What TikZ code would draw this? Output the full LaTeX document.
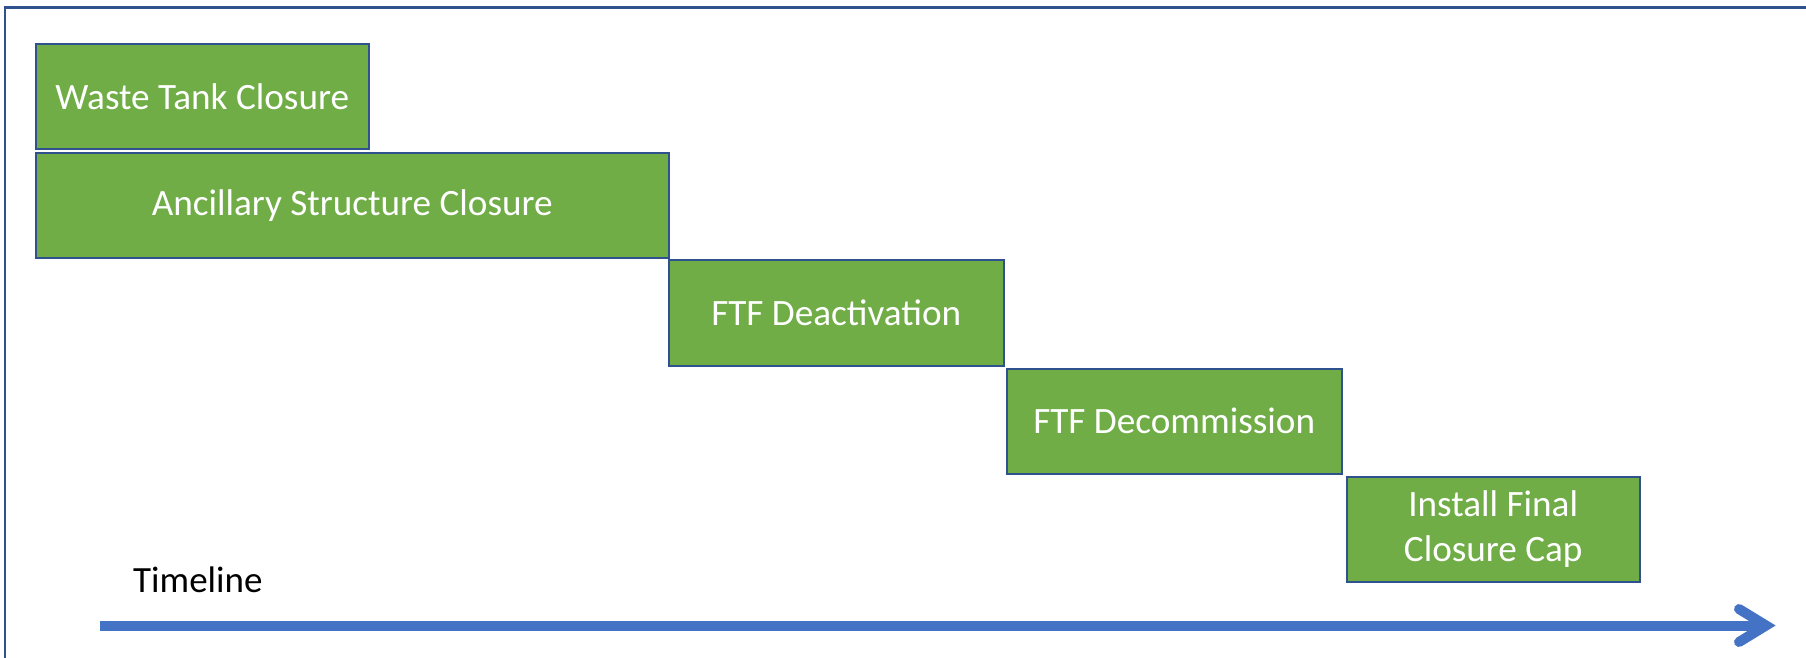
\documentclass[tikz,border=0pt]{standalone}
\usepackage{fontspec}
\setmainfont{Carlito}
\definecolor{boxgreen}{RGB}{112,173,71}
\definecolor{boxedge}{RGB}{47,82,143}
\definecolor{arrowblue}{RGB}{68,114,196}
\begin{document}
\begin{tikzpicture}[x=1pt,y=-1pt,
  phase/.style={draw=boxedge, line width=1.5pt, fill=boxgreen, text=white,
    rectangle, anchor=north west, inner sep=0pt, align=center,
    font=\fontsize{37.2}{45}\selectfont},
  frame/.style={draw=boxedge, line width=2.5pt},
  tline/.style={draw=arrowblue, line width=10pt},
  chev/.style={draw=arrowblue, line width=10pt, line cap=round, line join=miter}]
\useasboundingbox (0,0) rectangle (1806,657);
\draw[frame] (5,660) -- (5,7.5) -- (1810,7.5);
\node[phase, minimum width=333pt, minimum height=105pt] (wtc) at (35,43) {Waste Tank Closure};
\node[phase, minimum width=633pt, minimum height=105pt] (asc) at (35,152) {Ancillary Structure Closure};
\node[phase, minimum width=335pt, minimum height=106pt] (dea) at (668,259) {FTF Deactivation};
\node[phase, minimum width=335pt, minimum height=105pt] (dec) at (1006,368) {FTF Decommission};
\node[phase, minimum width=293pt, minimum height=105pt] (ifc) at (1346,476) {Install Final\\Closure Cap};
\node[anchor=base west, inner sep=0pt, font=\fontsize{37}{44}\selectfont] (tl) at (133,592) {Timeline};
\coordinate (tstart) at (100,625.5);
\coordinate (tend) at (1766,625.5);
\coordinate (cha) at (1739,609);
\coordinate (chb) at (1739,642);
\draw[tline] (tstart) -- (tend);
\draw[chev] (cha) -- (tend) -- (chb);
\end{tikzpicture}
\end{document}
